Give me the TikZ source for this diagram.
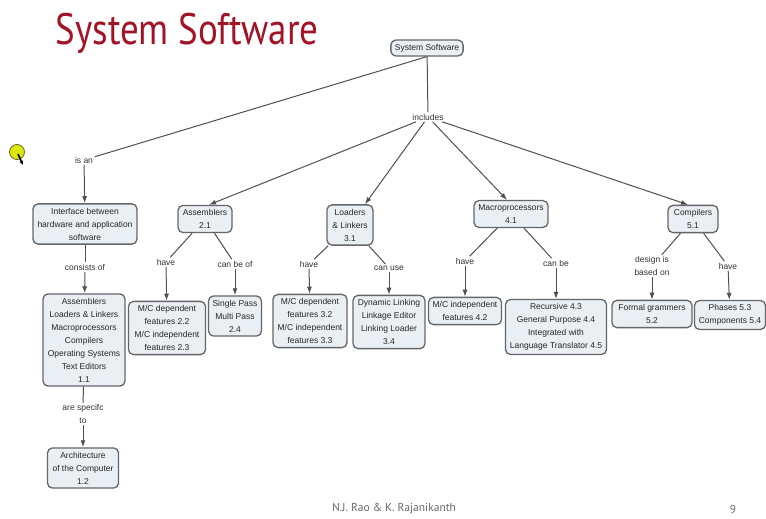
\documentclass[tikz,border=0pt]{standalone}
\usepackage{fontspec}
\setmainfont{Liberation Sans}
\newfontfamily\slidefont{PT Sans}
\usepackage{xcolor}
\usepackage{tikz}
\usetikzlibrary{arrows.meta, positioning}

\definecolor{titlered}{RGB}{160,20,40}
\definecolor{boxfill}{RGB}{234,239,243}
\definecolor{boxline}{RGB}{100,102,106}
\definecolor{linkgray}{RGB}{80,80,80}
\definecolor{footgray}{RGB}{105,105,105}

\tikzset{
  concept/.style={draw=boxline, fill=boxfill, rounded corners=5pt, line width=1.3pt,
    align=center, font=\fontsize{8.5}{13}\selectfont, inner xsep=4pt, inner ysep=4pt, text=black!85},
  linkword/.style={align=center, font=\fontsize{8.5}{12.7}\selectfont, inner sep=1.5pt, text=black!80},
  link/.style={draw=linkgray, line width=1pt},
  linkto/.style={link, -{Latex[length=7pt,width=5pt]}},
}

\begin{document}
\begin{tikzpicture}[x=1pt, y=-1pt]
        \useasboundingbox[fill=white] (0,0) rectangle (766,519);

        % title and footer
        \node[text=titlered, font=\slidefont\fontsize{44}{44}\selectfont] (title) at (187,33) {\scalebox{0.84}[1]{System Software}};
        \node[text=footgray, font=\slidefont\fontsize{11.5}{11.5}\selectfont] (authors) at (394,509) {N.J. Rao \& K. Rajanikanth};
        \node[text=footgray, font=\slidefont\fontsize{11.5}{11.5}\selectfont] (pageno) at (733,509) {9};

        % pointer
        \draw[fill=yellow!85!green, draw=olive!70!black, line width=0.8pt] (17,152) circle (7.5);
        \draw[line width=1.6pt, -{Latex[length=4pt,width=4pt]}] (18,154) -- (23,165);

        % concepts
        \node[concept] (sys) at (427,48) {System Software};
        \node[concept, minimum width=104pt] (iface) at (85,224) {Interface between\\hardware and application\\software};
        \node[concept, minimum width=54pt] (asm) at (205,219) {Assemblers\\2.1};
        \node[concept, minimum width=46pt] (ldr) at (350,225) {Loaders\\\& Linkers\\3.1};
        \node[concept, minimum width=74pt] (macro) at (511,214) {Macroprocessors\\4.1};
        \node[concept, minimum width=50pt] (comp) at (693,219) {Compilers\\5.1};

        \node[concept, minimum width=82pt] (tools) at (84,340) {Assemblers\\Loaders \& Linkers\\Macroprocessors\\Compilers\\Operating Systems\\Text Editors\\1.1};
        \node[concept, minimum width=71pt] (arch) at (83,468) {Architecture\\of the Computer\\1.2};
        \node[concept, minimum width=77pt] (asmfeat) at (167,328) {M/C dependent\\features 2.2\\M/C independent\\features 2.3};
        \node[concept, minimum width=50pt] (passes) at (235,316) {Single Pass\\Multi Pass\\2.4};
        \node[concept, minimum width=74pt] (ldrfeat) at (310,321) {M/C dependent\\features 3.2\\M/C independent\\features 3.3};
        \node[concept, minimum width=72pt] (linking) at (389,322) {Dynamic Linking\\Linkage Editor\\Linking Loader\\3.4};
        \node[concept, minimum width=73pt] (macfeat) at (465,311) {M/C independent\\features 4.2};
        \node[concept, minimum width=101pt] (mackind) at (556,327) {Recursive 4.3\\General Purpose 4.4\\Integrated with\\Language Translator 4.5};
        \node[concept, minimum width=80pt] (grammar) at (652,314) {Formal grammers\\5.2};
        \node[concept, minimum width=71pt] (phases) at (730,315) {Phases 5.3\\Components 5.4};

        % linking phrases
        \node[linkword] (includes) at (428,117) {includes};
        \node[linkword] (isan) at (84,160) {is an};
        \node[linkword] (consists) at (85,267) {consists of};
        \node[linkword] (aresp) at (83,414) {are specifc\\to};
        \node[linkword] (asmhave) at (166,262) {have};
        \node[linkword] (canbeof) at (235,264) {can be of};
        \node[linkword] (ldrhave) at (309,264) {have};
        \node[linkword] (canuse) at (389,268) {can use};
        \node[linkword] (machave) at (465,261) {have};
        \node[linkword] (canbe) at (556,263) {can be};
        \node[linkword] (design) at (652,266) {design is\\based on};
        \node[linkword] (comphave) at (728,266) {have};

        % connectors
        \draw[link] (sys) -- (includes);
        \draw[link] (sys.south) -- (isan);
        \draw[linkto] (isan) -- (iface);
        \draw[linkto] (includes) -- ([xshift=4pt]asm.north);
        \draw[linkto] (includes) -- (ldr);
        \draw[linkto] (includes) -- ([xshift=-4pt]macro.north);
        \draw[linkto] (includes) -- ([xshift=-5pt]comp.north);

        \draw[link] (iface) -- (consists);
        \draw[linkto] (consists) -- (tools);
        \draw[link] (tools) -- (aresp);
        \draw[linkto] (aresp) -- (arch);

        \draw[link] (asm) -- (asmhave);
        \draw[linkto] (asmhave) -- (asmfeat);
        \draw[link] (asm) -- (canbeof);
        \draw[linkto] (canbeof) -- (passes);

        \draw[link] (ldr) -- (ldrhave);
        \draw[linkto] (ldrhave) -- (ldrfeat);
        \draw[link] (ldr) -- (canuse);
        \draw[linkto] (canuse) -- (linking);

        \draw[link] (macro) -- (machave);
        \draw[linkto] (machave) -- (macfeat);
        \draw[link] (macro) -- (canbe);
        \draw[linkto] (canbe) -- (mackind);

        \draw[link] (comp) -- (design);
        \draw[linkto] (design) -- (grammar);
        \draw[link] (comp) -- (comphave);
        \draw[linkto] (comphave) -- (phases);
\end{tikzpicture}
\end{document}
